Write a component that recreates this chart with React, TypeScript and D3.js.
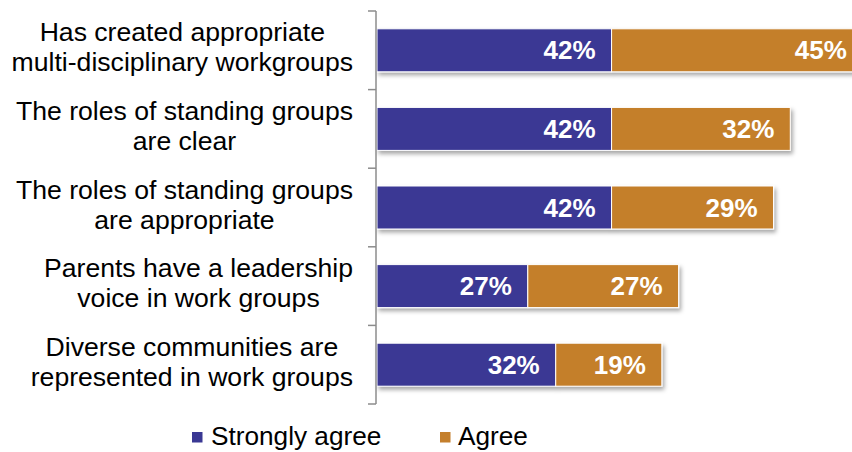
import React from "react";
import * as d3 from "d3";

const categories: string[][] = [
  ["Has created appropriate", "multi-disciplinary workgroups"],
  ["The roles of standing groups", "are clear"],
  ["The roles of standing groups", "are appropriate"],
  ["Parents have a leadership", "voice in work groups"],
  ["Diverse communities are", "represented in work groups"],
];
const stronglyAgree: number[] = [42, 42, 42, 27, 32];
const agree: number[] = [45, 32, 29, 27, 19];
const seriesNames = ["Strongly agree", "Agree"];
const colors = ["#3A3894", "#C47F2C"];

const W = 852;
const H = 452;
const FONT = "Liberation Sans, Arial, Helvetica, sans-serif";

function measure(text: string, font: string): number {
  if (typeof document === "undefined") return text.length * 12;
  const c = document.createElement("canvas");
  const ctx = c.getContext("2d");
  if (!ctx) return text.length * 12;
  ctx.font = font;
  return ctx.measureText(text).width;
}

export default function App() {
  const axisX = 376;
  const x = d3.scaleLinear().domain([0, 100]).range([axisX + 1, axisX + 1 + 558.5]);
  const ids = categories.map((_, i) => String(i));
  const y = d3
    .scaleBand<string>()
    .domain(ids)
    .range([11, 404])
    .paddingInner(0.453)
    .paddingOuter(0.2265);
  const step = y.step();
  const bw = y.bandwidth();
  const labelSize = 26.6;
  const labelFont = `${labelSize}px ${FONT}`;
  const lineH = 30;

  return (
    <svg
      width={W}
      height={H}
      style={{ position: "absolute", left: 0, top: 0, background: "#fff" }}
      fontFamily={FONT}
    >
      <defs>
        <filter id="shadow" x="-5%" y="-20%" width="115%" height="160%">
          <feDropShadow dx="2" dy="3" stdDeviation="2" floodColor="#000" floodOpacity="0.35" />
        </filter>
      </defs>

      {/* bars */}
      {categories.map((_, i) => {
        const y0 = y(String(i))!;
        const s = stronglyAgree[i];
        const a = agree[i];
        const cy = y0 + bw / 2;
        return (
          <g key={i}>
            <g filter="url(#shadow)">
              <rect x={x(0)} y={y0} width={x(s) - x(0)} height={bw} fill={colors[0]} stroke="#fff" strokeWidth={1} />
              <rect x={x(s)} y={y0} width={x(s + a) - x(s)} height={bw} fill={colors[1]} stroke="#fff" strokeWidth={1} />
            </g>
            <text x={x(s) - 16} y={cy + 9} textAnchor="end" fill="#fff" fontWeight="bold" fontSize={26}>
              {s}%
            </text>
            <text x={x(s + a) - 16} y={cy + 9} textAnchor="end" fill="#fff" fontWeight="bold" fontSize={26}>
              {a}%
            </text>
          </g>
        );
      })}

      {/* axis */}
      <g stroke="#8c8c8c" strokeWidth={1.5}>
        <line x1={axisX} x2={axisX} y1={y.range()[0]} y2={y.range()[1]} />
        {d3.range(categories.length + 1).map((k) => {
          const ty = y.range()[0] + k * step;
          return <line key={k} x1={axisX - 8} x2={axisX} y1={ty} y2={ty} />;
        })}
      </g>

      {/* category labels */}
      {categories.map((lines, i) => {
        const cy = y(String(i))! + bw / 2;
        const maxW = Math.max(...lines.map((l) => measure(l, labelFont)));
        const cx = 353 - maxW / 2;
        return (
          <text key={i} fontSize={labelSize} fill="#000" textAnchor="middle">
            {lines.map((l, j) => (
              <tspan key={j} x={cx} y={cy + (j - (lines.length - 1) / 2) * lineH + 6}>
                {l}
              </tspan>
            ))}
          </text>
        );
      })}

      {/* legend */}
      <g>
        <rect x={192} y={432} width={10.5} height={10.5} fill={colors[0]} />
        <text x={211} y={445} fontSize={26.2} fill="#000">
          {seriesNames[0]}
        </text>
        <rect x={440} y={432} width={10.5} height={10.5} fill={colors[1]} />
        <text x={458} y={445} fontSize={26.2} fill="#000">
          {seriesNames[1]}
        </text>
      </g>
    </svg>
  );
}
